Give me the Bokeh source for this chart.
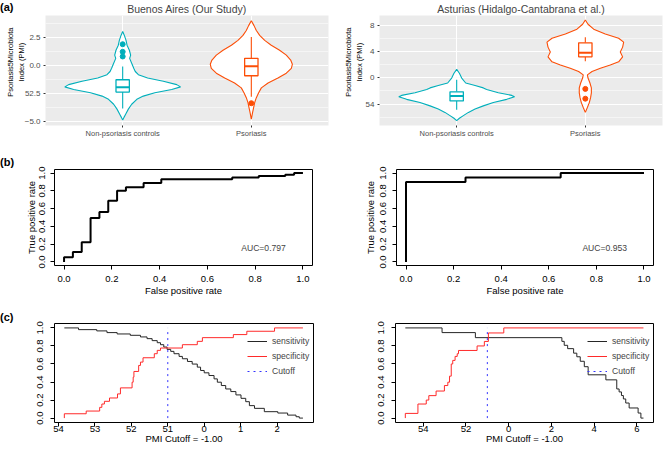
import math
from bokeh.plotting import figure
from bokeh.models import Range1d, FixedTicker, Label, Legend, LegendItem, PrintfTickFormatter, Div
from bokeh.layouts import column, row
from bokeh.embed import file_html
from bokeh.resources import INLINE

FONT = "Liberation Sans"
TEAL = "#00AFBB"
ORANGE = "#FC4E07"
NB = "\u00a0" * 8   # lifts the centred y-axis title a little, as in the source figure

# ---------------- (a) violin / box data ----------------
groups = ["Non-psoriasis controls", "Psoriasis"]
group_pos = [1, 2]
titles = ["Buenos Aires (Our Study)", "Asturias (Hidalgo-Cantabrana et al.)"]
pmi_label_lines = ["Psoriasis5Microbiota", "Index (PMI)"]
tags = ["(a)", "(b)", "(c)"]

# Buenos Aires violins: PMI value and half width (category units)
ba_ctrl_vy = [3.06, 2.71, 2.27, 1.83, 1.38, 0.94, 0.65, 0.21, -0.24, -0.53, -0.82, -1.12, -1.41, -1.71,
              -1.91, -2.15, -2.44, -2.74, -3.03, -3.47, -3.91, -4.36, -4.65, -4.89]
ba_ctrl_vw = [0, 0.013, 0.026, 0.034, 0.052, 0.062, 0.054, 0.07, 0.086, 0.098, 0.122, 0.194, 0.316, 0.42,
              0.45, 0.381, 0.25, 0.16, 0.11, 0.07, 0.044, 0.023, 0.01, 0]
ba_pso_vy = [4.03, 3.59, 3.15, 2.71, 2.27, 1.83, 1.38, 0.94, 0.50, 0.12, -0.24, -0.68, -1.12, -1.56,
             -2.00, -2.44, -2.88, -3.33, -3.77, -4.21, -4.82]
ba_pso_vw = [0, 0.021, 0.039, 0.065, 0.104, 0.155, 0.22, 0.272, 0.306, 0.319, 0.311, 0.272, 0.207, 0.13,
             0.078, 0.057, 0.039, 0.026, 0.018, 0.01, 0]
# box stats: q1, median, q3, lower whisker, upper whisker
ba_ctrl_box = [-2.38, -1.94, -1.27, -3.85, -0.09]
ba_pso_box = [-0.91, -0.05, 0.65, -2.80, 2.56]
ba_ctrl_out = [1.92, 1.24, 0.82]
ba_pso_out = [-3.38]

# Asturias violins
as_ctrl_vy = [1.28, 0.69, -0.05, -0.80, -1.19, -1.54, -1.79, -2.29, -2.68, -2.88, -3.28, -3.77, -4.27,
              -4.76, -5.26, -5.75, -6.15, -6.50]
as_ctrl_vw = [0, 0.021, 0.039, 0.07, 0.143, 0.207, 0.233, 0.324, 0.428, 0.45, 0.389, 0.285, 0.207,
              0.143, 0.091, 0.052, 0.021, 0]
as_pso_vy = [8.77, 8.12, 7.38, 6.64, 5.99, 5.40, 4.65, 3.91, 3.17, 2.42, 1.93, 1.43, 0.94, 0.44, -0.05,
             -0.80, -1.54, -2.29, -3.03, -3.77, -4.52, -5.26]
as_pso_vw = [0, 0.021, 0.065, 0.155, 0.259, 0.298, 0.29, 0.272, 0.29, 0.259, 0.194, 0.117, 0.052, 0.016,
             0.021, 0.036, 0.047, 0.047, 0.041, 0.031, 0.016, 0]
as_ctrl_box = [-3.52, -2.78, -2.14, -4.86, -0.30]
as_pso_box = [3.17, 3.81, 5.30, 2.52, 6.14]
as_ctrl_out = []
as_pso_out = [-1.69, -3.18]

ba_yticks = [-5.0, -2.5, 0.0, 2.5]
ba_yminor = [-3.75, -1.25, 1.25, 3.75]
ba_ylabels = ["\u22125.0", "52.5", "0.0", "2.5"]
as_yticks = [-4, 0, 4, 8]
as_yminor = [-6, -2, 2, 6]
as_ylabels = ["54", "0", "4", "8"]

# ---------------- (b) ROC data ----------------
roc_ba_fpr = [0, 0, 0.037, 0.074, 0.111, 0.148, 0.185, 0.222, 0.259, 0.333, 0.407, 0.704, 0.815, 0.926, 0.963, 1.0]
roc_ba_tpr = [0, 0.052, 0.112, 0.221, 0.494, 0.562, 0.689, 0.801, 0.839, 0.888, 0.929, 0.951, 0.966, 0.981, 1.0, 1.0]
roc_as_fpr = [0, 0, 0.25, 0.65, 1.0]
roc_as_tpr = [0, 0.9, 0.95, 1.0, 1.0]
auc_ba = "AUC=0.797"
auc_as = "AUC=0.953"
rate_ticks = [0.0, 0.2, 0.4, 0.6, 0.8, 1.0]
roc_xlabel = "False positive rate"
roc_ylabel = "True positive rate"

# ---------------- (c) cutoff curves ----------------
cutoff = -1.00
cut_xlabel = "PMI Cutoff = -1.00"
ba_sens_x = [-3.84, -3.45, -2.95, -2.67, -2.39, -2.03, -1.75, -1.57, -1.43, -1.29, -1.20, -1.11, -1.02, -0.92,
             -0.83, -0.69, -0.60, -0.46, -0.33, -0.19, -0.10, 0.00, 0.13, 0.27, 0.36, 0.47, 0.59, 0.73, 0.87,
             1.01, 1.14, 1.24, 1.38, 1.65, 2.02, 2.29, 2.52, 2.61, 2.71]
ba_sens_y = [1.0, 0.981, 0.967, 0.948, 0.933, 0.918, 0.9, 0.881, 0.859, 0.836, 0.814, 0.788, 0.762, 0.74,
             0.714, 0.684, 0.658, 0.628, 0.599, 0.565, 0.528, 0.502, 0.472, 0.435, 0.398, 0.361, 0.323, 0.294,
             0.257, 0.219, 0.182, 0.138, 0.108, 0.071, 0.056, 0.033, 0.015, 0.0, 0.0]
ba_spec_x = [-3.84, -3.84, -3.24, -2.87, -2.81, -2.74, -2.60, -2.38, -2.30, -1.98, -1.95, -1.93, -1.80, -1.75,
             -1.68, -1.37, -1.29, -1.20, -0.60, -0.19, -0.05, 0.80, 1.17, 1.93, 2.71]
ba_spec_y = [0, 0.048, 0.078, 0.119, 0.156, 0.186, 0.223, 0.268, 0.335, 0.398, 0.454, 0.517, 0.584, 0.621,
             0.669, 0.714, 0.751, 0.777, 0.814, 0.851, 0.892, 0.926, 0.963, 1.0, 1.0]
as_sens_x = [-4.84, -3.12, -1.56, 2.49, 2.60, 2.76, 3.04, 3.19, 3.35, 3.54, 3.72, 4.55, 5.06, 5.17, 5.28,
             5.37, 5.48, 5.64, 6.06, 6.19, 6.31]
as_sens_y = [1.0, 0.948, 0.892, 0.851, 0.807, 0.77, 0.72, 0.68, 0.63, 0.57, 0.48, 0.424, 0.323, 0.29, 0.25,
             0.212, 0.167, 0.112, 0.056, 0.0, 0.0]
as_spec_x = [-4.84, -4.84, -4.25, -3.86, -3.74, -3.40, -3.01, -2.85, -2.77, -2.69, -2.62, -2.51, -2.41, -2.35,
             -1.48, -1.14, -0.95, -0.23, 6.31]
as_spec_y = [0, 0.052, 0.156, 0.2, 0.249, 0.3, 0.361, 0.398, 0.465, 0.6, 0.64, 0.684, 0.714, 0.75, 0.8, 0.85,
             0.944, 1.0, 1.0]
ba_cut_ticks = [-4, -3, -2, -1, 0, 1, 2]
ba_cut_labels = ["54", "53", "52", "51", "0", "1", "2"]
as_cut_ticks = [-4, -2, 0, 2, 4, 6]
as_cut_labels = ["54", "52", "0", "2", "4", "6"]
legend_labels = ["sensitivity", "specificity", "Cutoff"]


def style_axis_label(ax, size, standoff):
    ax.axis_label_text_font = FONT
    ax.axis_label_text_font_size = size
    ax.axis_label_text_font_style = "normal"
    ax.axis_label_text_color = "black"
    ax.axis_label_standoff = standoff


def violin_panel(yr, yticks, yminor, ylabels, violins, boxes, outs, title, title_off, ylab_standoff):
    p = figure(width=334, height=147, x_range=Range1d(0.4, 2.6), y_range=Range1d(*yr),
               output_backend="svg", toolbar_location=None,
               min_border_left=45, min_border_right=6, min_border_top=13, min_border_bottom=22)
    p.background_fill_color = "#EBEBEB"
    p.border_fill_color = None
    p.outline_line_color = None
    p.title.text = title
    p.title.align = "center"
    p.title.offset = title_off
    p.title.standoff = 1
    p.title.text_font = FONT
    p.title.text_font_size = "10.5px"
    p.title.text_font_style = "normal"
    p.xaxis.ticker = FixedTicker(ticks=group_pos)
    p.xaxis.major_label_overrides = {pos: g for pos, g in zip(group_pos, groups)}
    p.yaxis.ticker = FixedTicker(ticks=yticks, minor_ticks=yminor)
    p.yaxis.major_label_overrides = {t: l for t, l in zip(yticks, ylabels)}
    for ax in (p.xaxis[0], p.yaxis[0]):
        ax.axis_line_color = None
        ax.major_tick_out = 2
        ax.major_tick_in = 0
        ax.major_tick_line_color = "#333333"
        ax.minor_tick_line_color = None
        ax.major_label_text_font = FONT
        ax.major_label_text_color = "#4D4D4D"
    p.xaxis.major_label_text_font_size = "7.5px"
    p.yaxis.major_label_text_font_size = "8px"
    p.xaxis.major_label_standoff = 1
    p.yaxis.major_label_standoff = 1
    p.yaxis.axis_label = "\n".join(NB + s for s in pmi_label_lines)
    style_axis_label(p.yaxis[0], "7.5px", ylab_standoff)
    p.xgrid.grid_line_color = "white"
    p.xgrid.grid_line_width = 1
    p.ygrid.grid_line_color = "white"
    p.ygrid.grid_line_width = 1
    p.ygrid.minor_grid_line_color = "white"
    p.ygrid.minor_grid_line_width = 0.5
    colors = [TEAL, ORANGE]
    bw = 0.052
    for c, col, (vy, vw), bx, out in zip(group_pos, colors, violins, boxes, outs):
        xs = [c - w for w in vw] + [c + w for w in reversed(vw)]
        ys = list(vy) + list(reversed(vy))
        p.patch(xs, ys, fill_color="white", line_color=col, line_width=1.1)
        q1, med, q3, lo, hi = bx
        p.segment(x0=[c, c], y0=[q3, q1], x1=[c, c], y1=[hi, lo], line_color=col, line_width=1.1)
        p.quad(left=[c - bw], right=[c + bw], bottom=[q1], top=[q3], fill_color="white",
               line_color=col, line_width=1.3)
        p.segment(x0=[c - bw], y0=[med], x1=[c + bw], y1=[med], line_color=col, line_width=2)
        if out:
            p.scatter(x=[c] * len(out), y=out, size=5, color=col)
    return p


def r_panel(height, top, bottom, left, right, xr, yr, ytick_so, ylab_so, xtick_so, xlab_so, ylab, xlab):
    p = figure(width=334, height=height, x_range=Range1d(*xr), y_range=Range1d(*yr),
               output_backend="svg", toolbar_location=None,
               min_border_left=left, min_border_right=right, min_border_top=top, min_border_bottom=bottom)
    p.outline_line_color = "black"
    p.outline_line_width = 1
    p.grid.visible = False
    p.background_fill_color = "white"
    p.border_fill_color = None
    for ax in (p.xaxis[0], p.yaxis[0]):
        ax.axis_line_color = None
        ax.major_tick_out = 4
        ax.major_tick_in = 0
        ax.major_tick_line_color = "black"
        ax.minor_tick_line_color = None
        ax.major_label_text_font = FONT
        ax.major_label_text_font_size = "9.5px"
        ax.major_label_text_color = "black"
    p.yaxis.major_label_orientation = "parallel"
    p.yaxis.ticker = FixedTicker(ticks=rate_ticks)
    p.yaxis.formatter = PrintfTickFormatter(format="%.1f")
    p.yaxis.major_label_standoff = ytick_so
    p.xaxis.major_label_standoff = xtick_so
    if ylab:
        p.yaxis.axis_label = ylab
        style_axis_label(p.yaxis[0], "9.5px", ylab_so)
    p.xaxis.axis_label = xlab
    style_axis_label(p.xaxis[0], "9.5px", xlab_so)
    return p


# ---------------- row 1 ----------------
a1 = violin_panel((-5.38, 4.50), ba_yticks, ba_yminor, ba_ylabels,
                  [(ba_ctrl_vy, ba_ctrl_vw), (ba_pso_vy, ba_pso_vw)], [ba_ctrl_box, ba_pso_box],
                  [ba_ctrl_out, ba_pso_out], titles[0], 6, -4)
a2 = violin_panel((-7.25, 9.45), as_yticks, as_yminor, as_ylabels,
                  [(as_ctrl_vy, as_ctrl_vw), (as_pso_vy, as_pso_vw)], [as_ctrl_box, as_pso_box],
                  [as_ctrl_out, as_pso_out], titles[1], 1.5, -1)

# ---------------- row 2 ----------------
def roc_panel(left, right, fpr, tpr, auc, ytick_so, ylab_so):
    p = r_panel(151, 22, 33, left, right, (-0.04, 1.04), (-0.04, 1.04), ytick_so, ylab_so, 6, 0,
                roc_ylabel, roc_xlabel)
    p.xaxis.ticker = FixedTicker(ticks=rate_ticks)
    p.xaxis.formatter = PrintfTickFormatter(format="%.1f")
    p.step(fpr, tpr, mode="after", line_color="black", line_width=2)
    p.add_layout(Label(x=0.835, y=0.16, text=auc, text_font=FONT, text_font_size="8.6px",
                       text_align="center", text_baseline="middle"))
    return p

b1 = roc_panel(54, 22, roc_ba_fpr, roc_ba_tpr, auc_ba, 5, 0)
b2 = roc_panel(62, 15, roc_as_fpr, roc_as_tpr, auc_as, 6, 2)

# ---------------- row 3 ----------------
def cut_panel(left, right, xr, ticks, labels, sx, sy, px, py, leg_x):
    p = r_panel(154, 25, 30, left, right, xr, (-0.049, 1.049), 7, 0, -1, -2, None, cut_xlabel)
    p.xaxis.ticker = FixedTicker(ticks=ticks)
    p.xaxis.major_label_overrides = {t: l for t, l in zip(ticks, labels)}
    r1 = p.step(sx, sy, mode="after", line_color="#262626", line_width=1)
    r2 = p.step(px, py, mode="after", line_color="#FF2A2A", line_width=1)
    r3 = p.segment(x0=[cutoff], y0=[0], x1=[cutoff], y1=[1], line_color="#3333FF", line_width=1,
                   line_dash="dotted")
    leg = Legend(items=[LegendItem(label=legend_labels[0], renderers=[r1]),
                        LegendItem(label=legend_labels[1], renderers=[r2]),
                        LegendItem(label=legend_labels[2], renderers=[r3])],
                 location=(leg_x, 44), border_line_color=None, background_fill_alpha=0,
                 label_text_font=FONT, label_text_font_size="8.6px", glyph_width=20, glyph_height=14,
                 label_height=14, spacing=1, padding=0, margin=0, label_standoff=5)
    p.add_layout(leg)
    return p

c1 = cut_panel(54, 21, (-4.11, 3.0), ba_cut_ticks, ba_cut_labels, ba_sens_x, ba_sens_y, ba_spec_x, ba_spec_y, 193)
c2 = cut_panel(61, 15, (-5.30, 6.78), as_cut_ticks, as_cut_labels, as_sens_x, as_sens_y, as_spec_x, as_spec_y, 192)

# ---------------- panel tags, overlaid on each row ----------------
tag_style = {"font-family": FONT, "font-size": "11px", "font-weight": "bold", "line-height": "14px",
             "color": "black"}

def tag(t, top, row_height):
    # sits 'top' px below the start of the row above which it is placed (negative margins overlay it)
    return Div(text=t, width=20, height=14, styles=tag_style,
               margin=(top - row_height, 0, row_height - top - 14, 0))

layout = column(row(a1, a2), tag(tags[0], 0, 147),
                row(b1, b2), tag(tags[1], 8, 151),
                row(c1, c2), tag(tags[2], 12, 154))

open("out.html", "w").write(file_html(layout, INLINE))
